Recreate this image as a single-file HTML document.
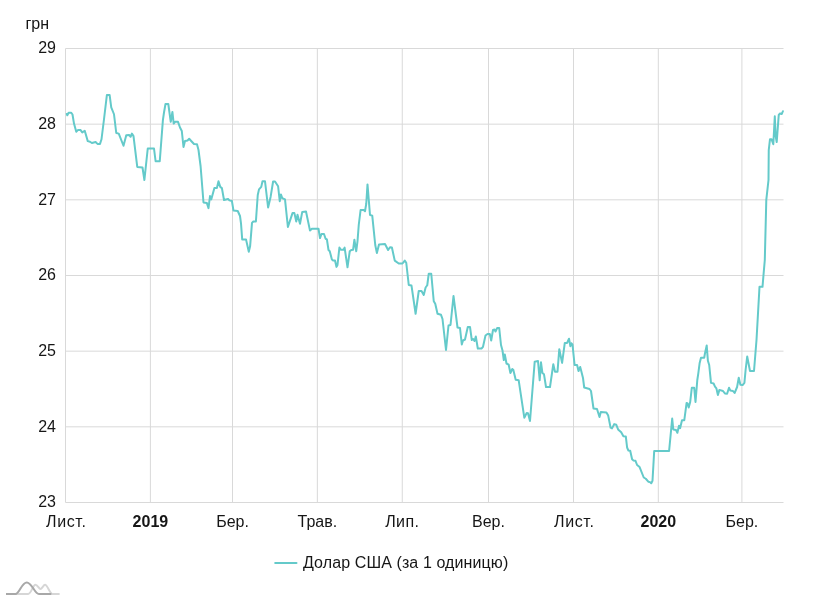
<!DOCTYPE html>
<html><head><meta charset="utf-8"><style>
html,body{margin:0;padding:0;background:#fff;width:814px;height:600px;overflow:hidden}
svg{display:block;will-change:transform}
text{font-family:"Liberation Sans",sans-serif;font-size:16px;fill:#161616}
</style></head><body>
<svg width="814" height="600" viewBox="0 0 814 600">
<g stroke="#d9d9d9" stroke-width="1" fill="none"><line x1="65.5" x2="783.5" y1="426.83" y2="426.83"/><line x1="65.5" x2="783.5" y1="351.17" y2="351.17"/><line x1="65.5" x2="783.5" y1="275.50" y2="275.50"/><line x1="65.5" x2="783.5" y1="199.83" y2="199.83"/><line x1="65.5" x2="783.5" y1="124.17" y2="124.17"/><line x1="150.4" x2="150.4" y1="48.5" y2="502.5"/><line x1="232.5" x2="232.5" y1="48.5" y2="502.5"/><line x1="317.35" x2="317.35" y1="48.5" y2="502.5"/><line x1="402.25" x2="402.25" y1="48.5" y2="502.5"/><line x1="488.5" x2="488.5" y1="48.5" y2="502.5"/><line x1="573.5" x2="573.5" y1="48.5" y2="502.5"/><line x1="658.3" x2="658.3" y1="48.5" y2="502.5"/><line x1="741.9" x2="741.9" y1="48.5" y2="502.5"/>
<path d="M65.5 502.5V48.5H783.5M65.5 502.5H783.5"/></g>
<text x="25.5" y="29">грн</text>
<text x="56" y="506.80" text-anchor="end">23</text><text x="56" y="431.80" text-anchor="end">24</text><text x="56" y="355.80" text-anchor="end">25</text><text x="56" y="279.80" text-anchor="end">26</text><text x="56" y="204.80" text-anchor="end">27</text><text x="56" y="128.80" text-anchor="end">28</text><text x="56" y="52.80" text-anchor="end">29</text>
<text x="66.3" y="526.8" text-anchor="middle" letter-spacing="0.6">Лист.</text><text x="150.4" y="526.8" text-anchor="middle" font-weight="bold">2019</text><text x="232.5" y="526.8" text-anchor="middle">Бер.</text><text x="317.35" y="526.8" text-anchor="middle">Трав.</text><text x="402.25" y="526.8" text-anchor="middle" letter-spacing="0.4">Лип.</text><text x="488.5" y="526.8" text-anchor="middle">Вер.</text><text x="574.3" y="526.8" text-anchor="middle" letter-spacing="0.6">Лист.</text><text x="658.3" y="526.8" text-anchor="middle" font-weight="bold">2020</text><text x="741.9" y="526.8" text-anchor="middle">Бер.</text>
<polyline fill="none" stroke="#64caca" stroke-width="2" stroke-linejoin="round" stroke-linecap="round" points="66.8,114 67.3,115.3 68.6,112.75 71.25,112.75 72.5,114.5 74,123.6 76.25,131.75 78.1,129.9 80.6,130.1 82.25,132.4 84.75,130.75 87.75,141.1 90,141.75 91.9,143 95.6,142 97.5,143.9 100,143.9 101.5,139.25 104,119.25 106.9,94.9 109.6,94.9 111.25,107.4 114,114.25 116.25,133 118.75,133.6 123.5,145.75 126.25,135.25 129.1,134.9 130.6,136.75 131.9,133.6 133.5,136.1 137.25,166.9 142.5,167.5 144.4,180 147.75,148.5 154,148.5 155.6,161.25 159.75,161.25 162.9,120.1 164,112.5 165.5,104 168.3,104 170.75,121.8 172.4,111.9 173.7,123.6 175.1,121.8 178,121.8 180,127.5 181.8,131 183.5,147 185,141 187.5,140.5 189.2,138.8 190.5,140.2 194,144 197,144.2 198.5,150 200.6,166.25 203.5,202.5 206.9,203.1 208.5,208.1 210,196 211.25,199.4 214.4,188.1 216.9,187.9 218.5,181.25 220.25,186.9 221.9,188.1 224,200 228.1,199 229.4,200.4 231.9,201 233.5,210.6 237.75,211 240,216 241,223.3 242.2,239.4 246,239.4 248.8,251.8 250.1,246.3 252,222.9 253.3,221.5 255.9,221.5 257.75,195 259,189.4 261.25,186.9 262.5,181.25 265,181.25 268.1,207.5 270.6,196.9 273.1,181.5 275,181.5 278.1,186.25 279.75,201.25 280.9,194.4 282.25,198.1 285,199.4 287.9,227 292.5,213.1 294.4,213.1 296.25,221.5 297.5,214.75 300,223.75 302.25,211.9 306,211.5 310,230.6 311.9,228.75 318.5,228.75 320,238.1 321.5,234 324,234 325.6,238.75 326.9,239.4 328.5,250 329.75,251.25 331.9,259.4 333.1,260.4 335,260.6 336.5,266.9 337.5,265 339.4,247.5 340.8,249.8 343.5,249.8 344.6,247.6 347.5,267.25 349.75,251.25 351.25,250 353.1,249.75 354.4,239.75 356.25,251.25 357.5,241.25 358.75,225 360.6,210 363.75,210 365,211.25 366.25,203.75 367.5,184.4 370,215 372.25,215.6 375.25,245 376.9,253.1 379,244.4 385,244 388.1,250 390,247.25 391.9,247.5 394.75,260.6 398.75,263.5 402.5,263.5 404.75,260.6 406.25,262.75 408.75,285 411.5,285.6 415.6,313.75 418.75,291 421.5,291 423.75,295 425.6,287.5 427.25,285.25 428.75,273.75 431.25,273.75 433.75,301.25 435.25,303.75 437.5,313.75 441,314.8 442.5,319 446,350 448.5,325.5 450.5,325 453.5,296 457.5,327.5 460,328 461.8,344.5 463,340.5 465,339.5 467.8,327 470,327 471.8,340 473.2,339 474.5,341 475.8,336.5 477.8,348.5 481.5,348.5 483,346.8 485.5,335.5 487.5,334 489.8,334 491.2,340.5 493,330 494.5,329.5 495.5,331.5 497.2,328 499.2,328 501,345 502.5,350.5 503.8,360 504.8,354.5 506.5,363.5 508.7,364.7 510.4,373 512.3,369 513.3,369.7 515.7,379.7 518.7,380.3 524.3,417.7 526.7,413 528,413.3 530,421 534.7,361.7 538,361 539.7,380.3 541,362.3 542.4,373 544,374.3 546,387 550,387 553.3,364.2 555,371.7 557.5,371.7 559.3,349.2 562.1,362.9 564.8,342.9 567.1,342.9 569,338.75 570.4,346.25 571.5,343.3 572.5,344.6 574.6,365 577.1,365 578.5,371 580.2,367 581.5,372 583,378 584.2,387.5 589.5,389 591,391 593.5,408.5 597,409 599.5,417 600.8,412 606.4,412.4 608.2,415.6 610.6,427.7 612,428.4 614.2,424.1 616.3,424.8 618.1,429.4 621.2,432.2 623.4,436.2 625.8,436.4 627.1,447.5 628.3,450.4 630.2,450.8 632.1,459.2 633.3,460.4 635.4,460.7 637.1,465 639.6,467.1 643.75,477.5 645.8,478.75 648.3,481.7 650,482.1 651.25,483.3 652.5,480.8 654.2,451 669.1,451 672.2,418.5 673.3,429.5 676,430 677.4,432.75 679,425.7 680.1,428.2 682,420.2 684.3,420.2 686.6,402.9 687.5,403.4 688.7,407.5 690.2,402 691.8,387.8 694.2,387.8 695.5,402 697.3,380 698.3,373.3 699.6,363.3 701,357.7 704.2,357.7 705,353.3 706.7,345.4 707.9,360.8 709.2,365 711,382.9 713.6,383.5 715,386.6 716.4,388.4 717.9,395 719.4,389.9 723,391 724.9,393.4 727.1,393.7 729,387.7 730.4,390.6 733,391 734.6,393 737.1,387 738.75,377.7 740.4,384.7 742.6,385.1 744.4,382.9 745.6,370 747.2,356.5 750,371 754,371 756.5,340 759.5,286.8 762.5,286.8 763.5,275 764.8,260 766.3,199.8 768.5,180 768.75,150 770,139.2 771.5,139.2 773.3,144.2 774.8,116.25 775.6,135.8 776.7,142.1 778.75,115 780,113.5 781.8,114 782.9,111.25"/>
<line x1="275.2" x2="296.5" y1="563" y2="563" stroke="#64caca" stroke-width="2" stroke-linecap="round"/>
<text x="303" y="567.5" letter-spacing="0.1">Долар США (за 1 одиницю)</text>
<g fill="none" stroke-width="2" stroke-linecap="butt">
<path d="M15.4 594H28.2C31 594 33 584.8 35.4 584.8C37.5 584.8 39 589 40.4 589C42 589 43.5 584.8 45 584.8C47.5 584.8 50 594 52.5 594H59.6" stroke="#d6d6d6"/>
<path d="M6 594H15.4C19.5 594 21.5 582.4 26.8 582.4C32 582.4 34.5 594 38.9 594H51.4" stroke="#a8a8a8"/>
</g>
</svg>
</body></html>
